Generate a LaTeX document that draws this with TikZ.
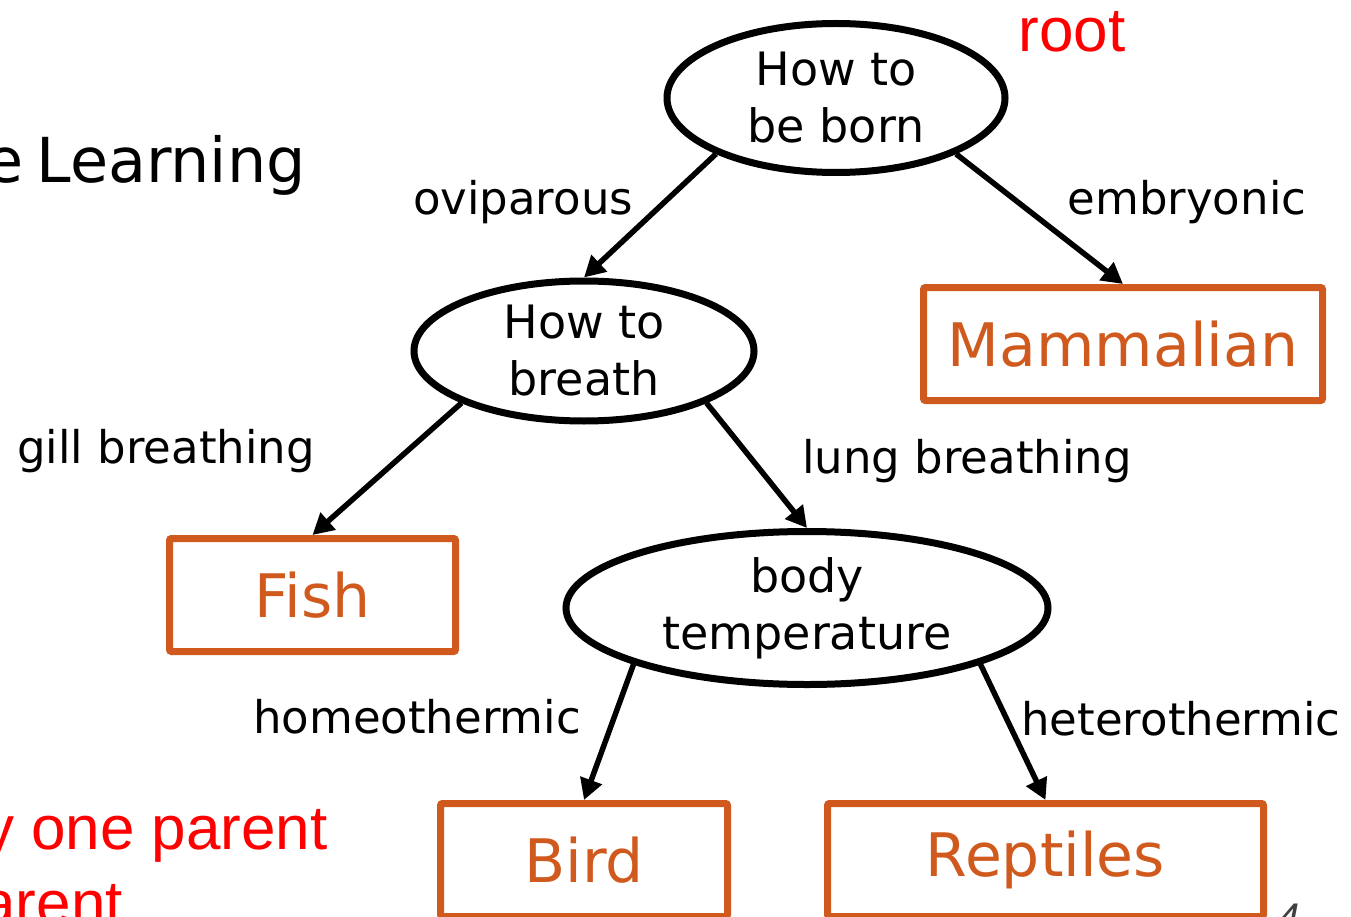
\documentclass[tikz,border=0pt]{standalone}
\usepackage{fontspec}
\setmainfont{DejaVu Sans}
\newfontfamily\redfont{Liberation Sans}
\usetikzlibrary{shapes.geometric,arrows.meta}
\definecolor{boxorange}{HTML}{D05A1E}
\definecolor{pagegray}{HTML}{404040}
\begin{document}
\begin{tikzpicture}[x=1pt,y=-1pt,
 qnode/.style={ellipse,draw,line width=7pt,inner sep=0pt,align=center,font=\fontsize{46}{57}\selectfont},
 leaf/.style={rectangle,draw=boxorange,text=boxorange,line width=7pt,rounded corners=2pt,inner sep=0pt,font=\fontsize{60}{72}\selectfont},
 edgelabel/.style={font=\fontsize{45}{54}\selectfont,inner sep=0pt,anchor=base},
 redtext/.style={text=red,inner sep=0pt,font=\redfont\fontsize{62}{74}\selectfont},
 arr/.style={line width=5.5pt,-{Triangle[length=21pt,width=22pt]}}]
\useasboundingbox (0,0) rectangle (1351,917);
\clip (0,0) rectangle (1351,917);
\fill[white] (0,0) rectangle (1351,917);

% question nodes
\node[qnode,minimum width=338pt,minimum height=149pt] (root) at (836,98) {How to\\be born};
\node[qnode,minimum width=340pt,minimum height=140pt] (breath) at (584,351) {How to\\breath};
\node[qnode,minimum width=482pt,minimum height=153pt] (body) at (807,608) {body\\temperature};

% leaves
\node[leaf,minimum width=399pt,minimum height=113pt] (mammal) at (1123,344) {Mammalian};
\node[leaf,minimum width=286pt,minimum height=113pt] (fish) at (312.5,595) {Fish};
\node[leaf,minimum width=287pt,minimum height=113pt] (bird) at (584,860) {Bird};
\node[leaf,minimum width=436pt,minimum height=113pt] (rept) at (1045.5,860) {Reptiles};

% connectors
\draw[arr] (root.205) -- (breath.north);
\draw[arr] (root.-25) -- (mammal.north);
\draw[arr] (breath.203.5) -- (fish.north);
\draw[arr] (breath.-23.5) -- (body.north);
\draw[arr] (body.198.4) -- (bird.north);
\draw[arr] (body.-18.8) -- (rept.north);

% edge labels
\node[edgelabel] (lov) at (523,215) {oviparous};
\node[edgelabel] (lem) at (1187,215) {embryonic};
\node[edgelabel] (lgi) at (166,463) {gill breathing};
\node[edgelabel] (llu) at (967,473) {lung breathing};
\node[edgelabel] (lho) at (417,733) {homeothermic};
\node[edgelabel] (lhe) at (1181,735) {heterothermic};

% other text
\node[redtext,anchor=base] (rootlbl) at (1072,52) {root};
\node[inner sep=0pt,anchor=base east,font=\fontsize{62}{74}\selectfont] (title) at (306,183) {e\hspace*{13pt}Learning};
\node[redtext,anchor=base east] (note1) at (328,849) {y one parent};
\node[redtext,anchor=base east] (note2) at (123,924) {arent};
\node[inner sep=0pt,anchor=base west,text=pagegray,font=\redfont\fontsize{40}{48}\selectfont\itshape] (pnum) at (1277,931) {4};
\end{tikzpicture}
\end{document}
